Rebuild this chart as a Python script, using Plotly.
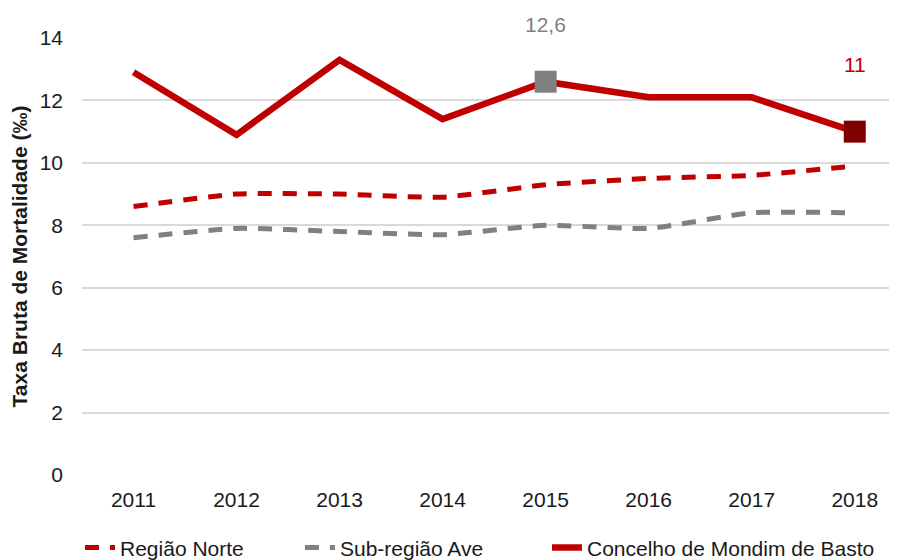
import plotly.graph_objects as go

years = ["2011", "2012", "2013", "2014", "2015", "2016", "2017", "2018"]
norte = [8.6, 9.0, 9.0, 8.9, 9.3, 9.5, 9.6, 9.9]
ave = [7.6, 7.9, 7.8, 7.7, 8.0, 7.9, 8.4, 8.4]
mondim = [12.9, 10.9, 13.3, 11.4, 12.6, 12.1, 12.1, 11.0]
yticks = [0, 2, 4, 6, 8, 10, 12, 14]
highlight = [4, 7]
highlight_labels = ["12,6", "11"]

RED = "#C00000"
GRAY = "#808080"
DARK = "#800000"
FONT = "Liberation Sans, Arial, sans-serif"
TXT = "#1a1a1a"
FS = 21

fig = go.Figure()
fig.add_trace(go.Scatter(x=years, y=norte, name="Região Norte", mode="lines", legend="legend",
                         line=dict(color=RED, width=5, dash="14px,11px", shape="spline", smoothing=0.5)))
fig.add_trace(go.Scatter(x=years, y=ave, name="Sub-região Ave", mode="lines", legend="legend2",
                         line=dict(color=GRAY, width=5, dash="14px,11px", shape="spline", smoothing=0.5)))
fig.add_trace(go.Scatter(x=years, y=mondim, name="Concelho de Mondim de Basto", mode="lines", legend="legend3",
                         line=dict(color=RED, width=6.5)))
fig.add_trace(go.Scatter(x=[years[i] for i in highlight], y=[mondim[i] for i in highlight], mode="markers",
                         showlegend=False, cliponaxis=False,
                         marker=dict(symbol="square", size=22, color=[GRAY, DARK],
                                     line=dict(width=0))))

label_colors = [GRAY, RED]
label_shift = [57, 67]
for i, lab, col, sh in zip(highlight, highlight_labels, label_colors, label_shift):
    fig.add_annotation(x=i, y=mondim[i], xref="x", yref="y", text=lab, showarrow=False, yshift=sh,
                       font=dict(color=col, size=FS, family=FONT))

def leg(xpos):
    return dict(orientation="h", xref="container", x=xpos, xanchor="left",
                yref="container", y=0.022, yanchor="middle",
                font=dict(size=FS, color=TXT), bgcolor="rgba(0,0,0,0)")

fig.update_layout(
    width=889, height=552,
    margin=dict(l=74, r=0, t=30, b=85, autoexpand=False),
    plot_bgcolor="white", paper_bgcolor="white",
    font=dict(family=FONT, size=FS, color=TXT),
    xaxis=dict(type="category", range=[-0.5, 7.41], showgrid=False, zeroline=False,
               showline=False, ticks="", ticklabelstandoff=10,
               tickfont=dict(size=FS, color=TXT)),
    yaxis=dict(range=[0, 14], tickvals=yticks, showgrid=True, gridcolor="#D9D9D9", gridwidth=1.5,
               zeroline=False, showline=False, ticks="", ticklabelstandoff=18,
               tickfont=dict(size=FS, color=TXT),
               title=dict(text="<b>Taxa Bruta de Mortalidade (‰)</b>", font=dict(size=FS, color=TXT), standoff=6)),
    legend=leg(0.0810),
    legend2=leg(0.3284),
    legend3=leg(0.6063),
    showlegend=True,
)

fig.write_html("out.html")
